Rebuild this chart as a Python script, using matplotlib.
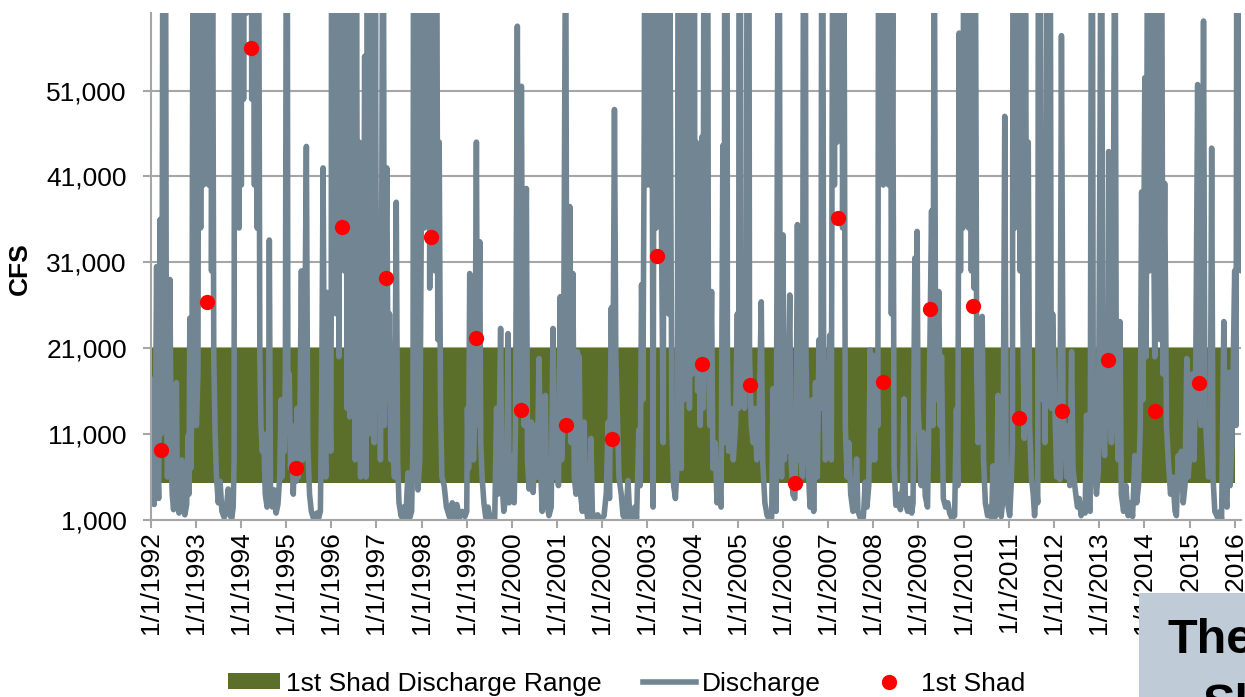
import matplotlib
matplotlib.use("Agg")
import matplotlib.pyplot as plt
from matplotlib.patches import Patch, Rectangle
from matplotlib.lines import Line2D
from matplotlib.ticker import FuncFormatter

plt.rcParams['font.family'] = ['Liberation Sans', 'DejaVu Sans']

# discharge: (decimal year, thousand cfs)
# values above 60k are off the chart, only their slope shows
discharge = [
    (1992.000, 17.5), (1992.012, 9.0), (1992.035, 3.0), (1992.060, 6.0), (1992.080, 2.8), (1992.110, 13.0),
    (1992.135, 30.5), (1992.155, 8.0), (1992.180, 3.5), (1992.195, 15.0), (1992.212, 36.0), (1992.232, 11.0),
    (1992.255, 22.0), (1992.280, 95.0), (1992.300, 30.0), (1992.330, 80.0), (1992.352, 14.0), (1992.375, 6.0),
    (1992.400, 11.0), (1992.430, 29.0), (1992.455, 9.0), (1992.480, 4.0), (1992.510, 2.2), (1992.545, 6.0),
    (1992.572, 17.0), (1992.595, 4.0), (1992.630, 1.8), (1992.660, 3.0), (1992.690, 8.0), (1992.720, 2.5),
    (1992.760, 1.6), (1992.800, 2.8), (1992.830, 10.8), (1992.850, 4.0), (1992.870, 24.5), (1992.890, 7.0),
    (1992.915, 14.0), (1992.950, 90.0), (1992.970, 20.0), (1992.990, 34.0),
    (1993.015, 12.0), (1993.050, 18.0), (1993.090, 130.0), (1993.110, 35.0), (1993.140, 160.0), (1993.170, 40.0),
    (1993.200, 200.0), (1993.230, 45.0), (1993.260, 180.0), (1993.290, 40.0), (1993.320, 120.0), (1993.350, 30.0),
    (1993.375, 70.0), (1993.400, 20.0), (1993.430, 11.0), (1993.460, 6.0), (1993.500, 3.0), (1993.540, 5.5),
    (1993.580, 2.0), (1993.630, 1.3), (1993.680, 2.5), (1993.720, 4.6), (1993.760, 1.5), (1993.800, 1.2),
    (1993.830, 2.5), (1993.850, 8.0), (1993.870, 160.0), (1993.900, 40.0), (1993.930, 130.0), (1993.960, 35.0),
    (1993.985, 150.0),
    (1994.010, 40.0), (1994.030, 200.0), (1994.060, 50.0), (1994.090, 250.0), (1994.120, 60.0), (1994.150, 220.0),
    (1994.180, 70.0), (1994.210, 150.0), (1994.240, 50.0), (1994.270, 110.0), (1994.300, 40.0), (1994.330, 120.0),
    (1994.360, 35.0), (1994.390, 80.0), (1994.420, 20.0), (1994.445, 12.0), (1994.475, 9.0), (1994.505, 11.0),
    (1994.540, 4.0), (1994.580, 2.5), (1994.610, 6.0), (1994.630, 33.6), (1994.655, 5.0), (1994.700, 2.5),
    (1994.740, 4.5), (1994.780, 1.8), (1994.820, 2.8), (1994.860, 6.0), (1994.890, 15.0), (1994.910, 6.0),
    (1994.940, 12.5), (1994.960, 9.0), (1994.985, 18.0),
    (1995.020, 110.0), (1995.040, 16.0), (1995.070, 18.0), (1995.100, 7.0), (1995.130, 12.0), (1995.160, 4.0),
    (1995.190, 9.0), (1995.220, 5.5), (1995.245, 14.0), (1995.270, 6.0), (1995.300, 9.0), (1995.340, 30.0),
    (1995.370, 8.0), (1995.400, 12.0), (1995.450, 44.5), (1995.480, 10.0), (1995.520, 4.0), (1995.560, 2.0),
    (1995.600, 1.3), (1995.640, 1.1), (1995.680, 1.8), (1995.720, 1.2), (1995.760, 2.0), (1995.790, 16.0),
    (1995.820, 42.0), (1995.850, 12.0), (1995.880, 6.0), (1995.910, 27.5), (1995.940, 10.0), (1995.970, 14.0),
    (1995.990, 9.0),
    (1996.000, 25.0), (1996.020, 150.0), (1996.050, 30.0), (1996.080, 120.0), (1996.110, 25.0), (1996.140, 90.0),
    (1996.170, 20.0), (1996.200, 110.0), (1996.230, 35.0), (1996.260, 140.0), (1996.290, 30.0), (1996.320, 80.0),
    (1996.350, 14.0), (1996.380, 70.0), (1996.410, 13.0), (1996.440, 60.0), (1996.470, 16.0), (1996.500, 50.0),
    (1996.530, 8.0), (1996.560, 65.0), (1996.590, 12.0), (1996.620, 45.0), (1996.650, 6.0), (1996.680, 40.0),
    (1996.710, 14.0), (1996.740, 55.0), (1996.770, 6.0), (1996.800, 75.0), (1996.830, 11.0), (1996.860, 110.0),
    (1996.890, 13.0), (1996.920, 90.0), (1996.950, 10.0), (1996.980, 60.0),
    (1997.000, 25.0), (1997.030, 14.0), (1997.060, 24.0), (1997.090, 8.0), (1997.120, 40.0), (1997.150, 95.0),
    (1997.175, 12.0), (1997.207, 29.0), (1997.230, 42.0), (1997.260, 15.0), (1997.290, 25.0), (1997.320, 8.0),
    (1997.360, 12.0), (1997.400, 6.0), (1997.440, 38.0), (1997.470, 8.0), (1997.500, 3.0), (1997.550, 1.4),
    (1997.600, 2.5), (1997.650, 1.2), (1997.700, 6.5), (1997.740, 1.3), (1997.780, 2.0), (1997.810, 10.0),
    (1997.830, 120.0), (1997.860, 15.0), (1997.890, 80.0), (1997.920, 4.5), (1997.960, 8.0),
    (1998.000, 40.0), (1998.030, 160.0), (1998.060, 35.0), (1998.090, 200.0), (1998.120, 40.0), (1998.150, 140.0),
    (1998.180, 28.0), (1998.210, 110.0), (1998.240, 35.0), (1998.270, 130.0), (1998.300, 30.0), (1998.330, 85.0),
    (1998.360, 22.0), (1998.390, 45.0), (1998.420, 14.0), (1998.450, 6.0), (1998.500, 5.0), (1998.550, 2.5),
    (1998.620, 1.3), (1998.680, 3.0), (1998.730, 1.2), (1998.780, 2.8), (1998.840, 1.3), (1998.900, 2.0),
    (1998.960, 1.4),
    (1999.000, 2.0), (1999.015, 14.0), (1999.040, 7.0), (1999.066, 29.7), (1999.090, 10.0), (1999.120, 15.0),
    (1999.150, 8.0), (1999.180, 14.0), (1999.214, 45.0), (1999.240, 12.0), (1999.265, 20.0), (1999.288, 33.4),
    (1999.310, 10.0), (1999.340, 6.0), (1999.380, 3.0), (1999.420, 1.3), (1999.470, 2.5), (1999.520, 1.1),
    (1999.570, 1.5), (1999.620, 1.2), (1999.660, 14.0), (1999.690, 4.0), (1999.720, 12.0), (1999.750, 23.3),
    (1999.775, 6.0), (1999.820, 2.0), (1999.860, 3.5), (1999.890, 9.0), (1999.915, 22.7), (1999.940, 3.0),
    (1999.975, 8.0),
    (2000.025, 8.5), (2000.050, 3.0), (2000.080, 12.0), (2000.120, 58.5), (2000.150, 14.0), (2000.180, 20.0),
    (2000.210, 51.5), (2000.240, 16.0), (2000.270, 12.0), (2000.320, 39.6), (2000.345, 8.0), (2000.380, 4.6),
    (2000.430, 12.4), (2000.470, 4.2), (2000.520, 12.0), (2000.560, 6.0), (2000.600, 19.8), (2000.630, 8.0),
    (2000.670, 2.0), (2000.740, 15.5), (2000.770, 3.0), (2000.820, 1.5), (2000.870, 2.5), (2000.910, 23.3),
    (2000.940, 6.0), (2000.970, 10.0),
    (2001.000, 10.0), (2001.030, 5.0), (2001.070, 27.0), (2001.100, 8.0), (2001.140, 14.0), (2001.190, 75.0),
    (2001.215, 15.0), (2001.250, 12.0), (2001.280, 37.5), (2001.310, 10.0), (2001.350, 29.7), (2001.380, 6.0),
    (2001.420, 4.0), (2001.450, 20.6), (2001.470, 6.0), (2001.490, 20.0), (2001.520, 4.0), (2001.560, 2.0),
    (2001.600, 12.4), (2001.630, 3.0), (2001.680, 1.1), (2001.720, 1.4), (2001.750, 10.5), (2001.780, 2.0),
    (2001.830, 1.1), (2001.900, 1.6), (2001.960, 1.0),
    (2002.000, 1.2), (2002.040, 1.5), (2002.090, 4.2), (2002.130, 12.4), (2002.160, 3.5), (2002.200, 25.7),
    (2002.230, 10.0), (2002.270, 48.8), (2002.300, 20.0), (2002.330, 14.0), (2002.370, 6.0), (2002.420, 4.0),
    (2002.460, 1.5), (2002.520, 1.1), (2002.570, 5.6), (2002.610, 1.2), (2002.660, 1.0), (2002.720, 2.5),
    (2002.760, 1.2), (2002.810, 11.5), (2002.840, 5.0), (2002.870, 28.4), (2002.900, 15.0), (2002.930, 47.6),
    (2002.960, 130.0), (2002.985, 40.0),
    (2003.000, 60.0), (2003.030, 150.0), (2003.060, 40.0), (2003.090, 90.0), (2003.125, 2.5), (2003.160, 100.0),
    (2003.190, 35.0), (2003.220, 200.0), (2003.250, 40.0), (2003.280, 150.0), (2003.310, 35.0), (2003.350, 10.0),
    (2003.380, 90.0), (2003.410, 30.0), (2003.440, 120.0), (2003.470, 25.0), (2003.500, 60.0), (2003.540, 12.0),
    (2003.580, 5.0), (2003.620, 3.5), (2003.660, 8.0), (2003.690, 110.0), (2003.720, 10.0), (2003.750, 7.0),
    (2003.780, 80.0), (2003.810, 15.0), (2003.840, 140.0), (2003.870, 20.0), (2003.900, 90.0), (2003.930, 14.0),
    (2003.960, 70.0), (2003.990, 18.0),
    (2004.020, 200.0), (2004.050, 25.0), (2004.080, 45.0), (2004.110, 16.0), (2004.140, 30.0), (2004.170, 12.0),
    (2004.204, 45.6), (2004.230, 14.0), (2004.260, 100.0), (2004.290, 25.0), (2004.320, 130.0), (2004.350, 20.0),
    (2004.380, 12.0), (2004.420, 27.6), (2004.450, 7.0), (2004.500, 10.0), (2004.540, 3.0), (2004.580, 6.0),
    (2004.630, 2.5), (2004.670, 44.6), (2004.700, 10.0), (2004.740, 250.0), (2004.770, 20.0), (2004.800, 9.0),
    (2004.850, 14.0), (2004.900, 8.0), (2004.950, 12.0), (2004.990, 25.0),
    (2005.020, 14.0), (2005.040, 160.0), (2005.070, 20.0), (2005.110, 24.5), (2005.150, 14.0), (2005.190, 30.0),
    (2005.230, 140.0), (2005.260, 20.0), (2005.300, 12.0), (2005.340, 10.0), (2005.380, 14.0), (2005.420, 8.0),
    (2005.470, 12.0), (2005.520, 26.4), (2005.550, 8.0), (2005.600, 3.0), (2005.650, 1.5), (2005.700, 1.1),
    (2005.750, 1.3), (2005.780, 16.3), (2005.810, 3.0), (2005.850, 2.0), (2005.910, 100.0), (2005.940, 14.0),
    (2005.970, 6.0),
    (2006.000, 34.2), (2006.030, 8.0), (2006.060, 14.0), (2006.100, 9.0), (2006.150, 27.2), (2006.180, 8.0),
    (2006.220, 4.0), (2006.262, 3.5), (2006.290, 10.0), (2006.320, 35.4), (2006.350, 8.0), (2006.390, 14.0),
    (2006.430, 6.0), (2006.480, 140.0), (2006.510, 20.0), (2006.550, 8.0), (2006.600, 2.5), (2006.650, 15.0),
    (2006.680, 2.0), (2006.720, 17.0), (2006.760, 6.0), (2006.800, 22.0), (2006.840, 14.0), (2006.870, 110.0),
    (2006.900, 20.0), (2006.940, 8.0), (2006.970, 12.0),
    (2007.000, 10.0), (2007.035, 22.5), (2007.070, 8.0), (2007.110, 90.0), (2007.140, 40.0), (2007.170, 130.0),
    (2007.200, 45.0), (2007.230, 160.0), (2007.260, 50.0), (2007.290, 110.0), (2007.320, 35.0), (2007.350, 70.0),
    (2007.380, 12.0), (2007.420, 6.0), (2007.460, 10.0), (2007.500, 4.0), (2007.550, 2.0), (2007.590, 3.0),
    (2007.630, 8.1), (2007.660, 2.0), (2007.720, 1.1), (2007.780, 1.3), (2007.820, 5.4), (2007.860, 2.5),
    (2007.900, 5.0), (2007.930, 20.8), (2007.960, 8.0), (2007.990, 20.2),
    (2008.030, 8.0), (2008.070, 20.0), (2008.100, 12.0), (2008.130, 120.0), (2008.160, 50.0), (2008.190, 180.0),
    (2008.220, 40.0), (2008.250, 150.0), (2008.280, 45.0), (2008.310, 200.0), (2008.340, 40.0), (2008.370, 100.0),
    (2008.400, 25.0), (2008.430, 60.0), (2008.460, 7.3), (2008.500, 2.7), (2008.550, 4.0), (2008.600, 2.2),
    (2008.650, 5.0), (2008.680, 15.1), (2008.710, 3.0), (2008.760, 2.0), (2008.800, 3.5), (2008.850, 1.8),
    (2008.880, 3.0), (2008.920, 31.5), (2008.945, 12.0), (2008.970, 34.6), (2008.990, 14.0),
    (2009.020, 11.0), (2009.060, 5.0), (2009.100, 11.2), (2009.150, 3.8), (2009.200, 2.5), (2009.250, 20.0),
    (2009.290, 37.0), (2009.320, 12.0), (2009.350, 75.0), (2009.380, 15.0), (2009.420, 20.0), (2009.450, 27.6),
    (2009.480, 12.0), (2009.510, 20.0), (2009.550, 3.5), (2009.600, 2.5), (2009.650, 3.0), (2009.690, 1.8),
    (2009.740, 1.2), (2009.800, 1.5), (2009.840, 13.9), (2009.870, 5.0), (2009.900, 57.7), (2009.930, 30.0),
    (2009.960, 57.0), (2009.985, 35.0),
    (2010.020, 120.0), (2010.050, 40.0), (2010.080, 150.0), (2010.110, 35.0), (2010.140, 100.0), (2010.170, 30.0),
    (2010.200, 90.0), (2010.230, 28.0), (2010.260, 70.0), (2010.290, 18.0), (2010.320, 10.0), (2010.360, 14.0),
    (2010.410, 24.7), (2010.440, 8.0), (2010.480, 3.0), (2010.530, 1.5), (2010.580, 2.5), (2010.620, 1.2),
    (2010.650, 7.3), (2010.690, 1.3), (2010.730, 2.0), (2010.760, 15.5), (2010.790, 3.0), (2010.830, 1.4),
    (2010.870, 3.5), (2010.910, 48.0), (2010.940, 8.0), (2010.970, 3.0),
    (2011.020, 1.5), (2011.050, 4.9), (2011.080, 10.0), (2011.100, 120.0), (2011.130, 35.0), (2011.160, 150.0),
    (2011.190, 40.0), (2011.220, 110.0), (2011.250, 30.0), (2011.280, 90.0), (2011.310, 25.0), (2011.340, 10.5),
    (2011.370, 60.0), (2011.400, 20.0), (2011.430, 45.0), (2011.460, 12.0), (2011.500, 6.0), (2011.540, 4.0),
    (2011.570, 1.5), (2011.610, 5.0), (2011.640, 3.0), (2011.680, 200.0), (2011.710, 30.0), (2011.740, 15.0),
    (2011.770, 40.0), (2011.800, 10.0), (2011.850, 70.0), (2011.880, 15.0), (2011.910, 90.0), (2011.940, 14.0),
    (2011.970, 25.0),
    (2012.020, 13.9), (2012.060, 6.0), (2012.100, 12.0), (2012.130, 5.7), (2012.165, 57.4), (2012.200, 14.0),
    (2012.240, 10.0), (2012.280, 6.0), (2012.320, 12.0), (2012.350, 5.0), (2012.390, 20.6), (2012.420, 7.0),
    (2012.470, 4.5), (2012.520, 2.5), (2012.560, 3.5), (2012.600, 1.5), (2012.650, 2.8), (2012.690, 1.8),
    (2012.720, 13.2), (2012.760, 3.0), (2012.800, 2.0), (2012.840, 100.0), (2012.870, 12.0), (2012.900, 6.6),
    (2012.940, 4.0), (2012.980, 6.6),
    (2013.020, 47.5), (2013.050, 90.0), (2013.080, 12.0), (2013.120, 8.5), (2013.160, 20.0), (2013.190, 12.0),
    (2013.210, 43.9), (2013.240, 15.0), (2013.270, 10.0), (2013.300, 18.0), (2013.350, 80.0), (2013.380, 14.0),
    (2013.420, 8.0), (2013.460, 24.1), (2013.490, 4.0), (2013.540, 2.0), (2013.590, 5.0), (2013.640, 1.5),
    (2013.690, 3.0), (2013.740, 1.4), (2013.790, 8.5), (2013.830, 3.0), (2013.870, 5.0), (2013.910, 12.0),
    (2013.940, 39.2), (2013.970, 15.0),
    (2014.010, 52.5), (2014.040, 20.0), (2014.080, 90.0), (2014.110, 30.0), (2014.140, 130.0), (2014.170, 35.0),
    (2014.200, 40.0), (2014.230, 20.0), (2014.260, 100.0), (2014.290, 25.0), (2014.320, 40.0), (2014.350, 22.0),
    (2014.380, 80.0), (2014.410, 18.0), (2014.450, 40.2), (2014.490, 12.0), (2014.530, 8.0), (2014.580, 4.0),
    (2014.630, 6.0), (2014.680, 2.0), (2014.710, 1.5), (2014.750, 8.5), (2014.790, 5.0), (2014.820, 9.0),
    (2014.860, 3.0), (2014.900, 5.0), (2014.940, 19.8), (2014.970, 6.0),
    (2015.020, 10.0), (2015.060, 18.0), (2015.100, 8.0), (2015.140, 20.0), (2015.180, 51.7), (2015.210, 16.0),
    (2015.250, 12.0), (2015.280, 20.0), (2015.310, 59.1), (2015.340, 14.0), (2015.380, 10.0), (2015.420, 6.0),
    (2015.460, 9.0), (2015.490, 44.3), (2015.520, 6.0), (2015.560, 2.0), (2015.620, 1.3), (2015.680, 2.0),
    (2015.710, 1.1), (2015.760, 24.1), (2015.790, 4.0), (2015.830, 2.5), (2015.870, 18.2), (2015.900, 5.0),
    (2015.940, 10.0), (2015.970, 20.0),
    (2016.000, 30.0), (2016.030, 12.0), (2016.060, 120.0), (2016.100, 40.0), (2016.130, 90.0), (2016.145, 30.0),
]

# 1st shad catch date and the flow on that day
shad_year = [1992.239, 1993.257, 1994.218, 1995.215, 1996.233, 1997.207, 1998.203, 1999.213,
             2000.196, 2001.199, 2002.217, 2003.213, 2004.204, 2005.267, 2006.262, 2007.214,
             2008.217, 2009.250, 2010.216, 2011.234, 2012.186, 2013.204, 2014.232, 2015.219]
shad_cfs = [9100, 26400, 56000, 7100, 35100, 29200, 33900, 22200,
            13800, 12100, 10400, 31700, 19200, 16700, 5300, 36200,
            17100, 25600, 25900, 12900, 13700, 19600, 13700, 17000]

# discharge range where the 1st shad show up
band_years = [1992.0, 2016.0]
band_low = [5300, 5300]
band_high = [21000, 21000]

year_ticks = list(range(1992, 2017))
year_labels = ['1/1/%d' % y for y in year_ticks]
cfs_ticks = list(range(1000, 51001, 10000))

GREEN = '#5b6f2a'
GRAY = '#718592'
GRID = '#a6a6a6'

fig = plt.figure(figsize=(12.45, 6.97), dpi=100)
ax = fig.add_axes([0.1209, 0.254, 0.8759, 0.7269])

ax.fill_between(band_years, band_low, band_high, color=GREEN, lw=0, zorder=1)

t = [p[0] for p in discharge]
q = [p[1] * 1000 for p in discharge]
ax.plot(t, q, color=GRAY, lw=4.0, solid_joinstyle='round', solid_capstyle='round', zorder=2)

ax.plot(shad_year, shad_cfs, 'o', color='#ff0000', ms=11, mec='none', zorder=3)

ax.set_xlim(1992.0, 2016.14)
ax.set_ylim(1000, 60000)
ax.set_xticks(year_ticks)
ax.set_xticklabels(year_labels, rotation=90, fontsize=19)
ax.set_yticks(cfs_ticks)
ax.yaxis.set_major_formatter(FuncFormatter(lambda v, p: '{:,}'.format(int(v))))
ax.tick_params(axis='y', labelsize=19, length=6, width=1.5, color=GRID, pad=11)
ax.tick_params(axis='x', length=6, width=1.5, color=GRID, pad=2)

ax.set_axisbelow(True)
ax.yaxis.grid(True, color=GRID, lw=1.5)
for s in ['top', 'right']:
    ax.spines[s].set_visible(False)
for s in ['left', 'bottom']:
    ax.spines[s].set_color(GRID)
    ax.spines[s].set_linewidth(1.5)

ax.set_ylabel('CFS', fontsize=19, fontweight='bold')
ax.yaxis.set_label_coords(-0.109, 0.497)

handles = [Patch(facecolor=GREEN, edgecolor='none'),
           Line2D([], [], color=GRAY, lw=4.0),
           Line2D([], [], ls='none', marker='o', color='#ff0000', ms=11, mec='none')]
labels = ['1st Shad Discharge Range', 'Discharge', '1st Shad']
fig.legend(handles, labels, loc='center', bbox_to_anchor=(0.503, 0.019), ncol=3,
           frameon=False, fontsize=19, handlelength=2.0, handletextpad=0.2,
           columnspacing=1.6, handleheight=0.55)

# slide text box peeking in at the bottom right
fig.patches.append(Rectangle((0.9149, 0.0), 0.09, 0.1492, transform=fig.transFigure,
                             facecolor='#bfccd8', edgecolor='none', zorder=5))
fig.text(0.938, 0.063, 'The', fontsize=35, fontweight='bold', ha='left', va='baseline', zorder=6)
fig.text(0.966, 0.02, 'Sh', fontsize=35, fontweight='bold', ha='left', va='top', zorder=6)

fig.savefig('out.png', dpi=100)
